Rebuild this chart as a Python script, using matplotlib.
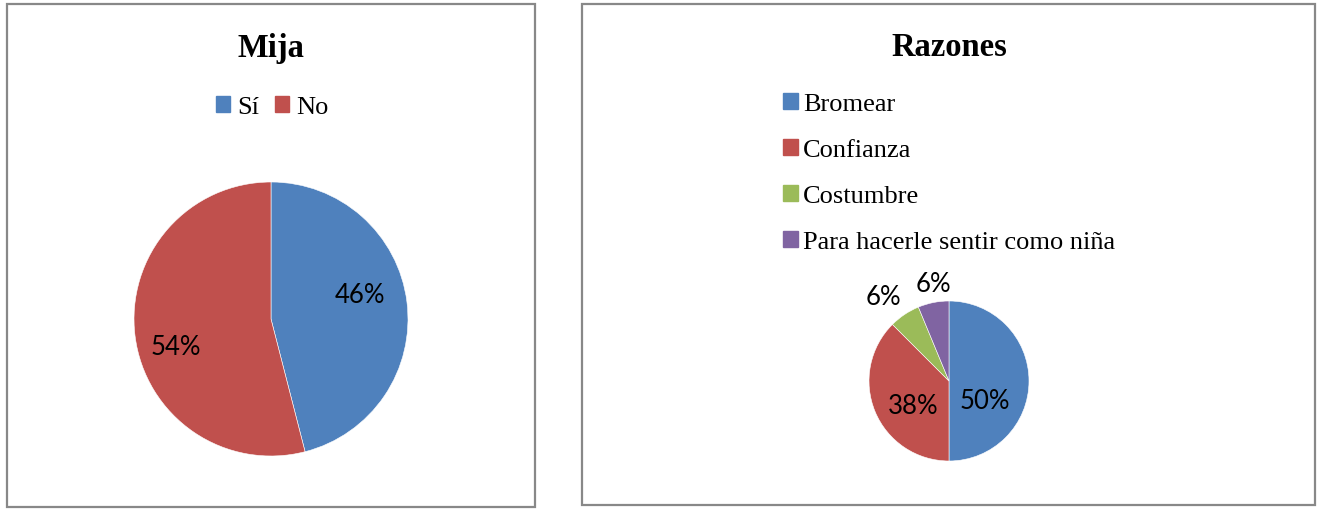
import matplotlib.pyplot as plt
import numpy as np
from matplotlib.patches import Rectangle, Patch

# Mija chart
mija_labels = ["Sí", "No"]
mija_values = [46, 54]

# Razones chart
razones_labels = ["Bromear", "Confianza", "Costumbre", "Para hacerle sentir como niña"]
razones_values = [8, 6, 1, 1]

colors = ["#4F81BD", "#C0504D", "#9BBB59", "#8064A2"]

W, H = 1322, 510
fig = plt.figure(figsize=(W / 100, H / 100), dpi=100)
fig.patch.set_facecolor("white")

serif = "Liberation Serif"
sans = "Lato"


def px_axes(cx, cy, r):
    # axes of size 2r centred at pixel (cx, cy), y measured from the top
    return fig.add_axes([(cx - r) / W, (H - cy - r) / H, 2 * r / W, 2 * r / H])


def box(x0, y0, x1, y1):
    fig.add_artist(Rectangle((x0 / W, 1 - y1 / H), (x1 - x0) / W, (y1 - y0) / H,
                             transform=fig.transFigure, fill=False,
                             edgecolor="#888888", linewidth=1.6))


def place_labels(wedges, texts, dists, shifts):
    # put each percentage at a given radius, turned a little off the slice bisector
    for w, t, d, s in zip(wedges, texts, dists, shifts):
        ang = np.deg2rad((w.theta1 + w.theta2) / 2 + s)
        t.set_position((d * np.cos(ang), d * np.sin(ang)))


box(7, 5, 535, 508)
box(582, 5, 1315, 506)

# --- Mija ---
ax1 = px_axes(271, 320, 137)
wedges1, _, pct1 = ax1.pie(mija_values, colors=colors[:2], startangle=90, counterclock=False,
                           autopct="%.0f%%",
                           wedgeprops=dict(edgecolor="white", linewidth=0.4),
                           textprops=dict(fontsize=18.5, family=sans, color="black"))
ax1.set_xlim(-1, 1)
ax1.set_ylim(-1, 1)
place_labels(wedges1, pct1, [0.67, 0.72], [8, 9])
fig.text(271 / W, 1 - 49 / H, "Mija", ha="center", va="center",
         fontsize=23.5, fontweight="bold", family=serif)
fig.legend([Patch(color=c) for c in colors[:2]], mija_labels, loc="center",
           bbox_to_anchor=(272 / W, 1 - 108 / H), ncol=2, frameon=False,
           prop=dict(family=serif, size=19), handlelength=0.55, handleheight=0.55,
           handletextpad=0.25, columnspacing=0.6)

# --- Razones ---
ax2 = px_axes(949, 382, 80)
wedges2, _, pct2 = ax2.pie(razones_values, colors=colors, startangle=90, counterclock=False,
                           autopct="%.0f%%",
                           wedgeprops=dict(edgecolor="white", linewidth=0.4),
                           textprops=dict(fontsize=18.5, family=sans, color="black"))
ax2.set_xlim(-1, 1)
ax2.set_ylim(-1, 1)
# the two small slices get their labels outside the pie
place_labels(wedges2, pct2, [0.51, 0.55, 1.335, 1.24], [-28, 12, 4, -2])
fig.text(949 / W, 1 - 47 / H, "Razones", ha="center", va="center",
         fontsize=23.5, fontweight="bold", family=serif)
fig.legend([Patch(color=c) for c in colors], razones_labels, loc="upper left",
           bbox_to_anchor=(783 / W, 1 - 94 / H), ncol=1, frameon=False,
           prop=dict(family=serif, size=19), handlelength=0.55, handleheight=0.55,
           handletextpad=0.2, labelspacing=0.9, borderpad=0, borderaxespad=0)

fig.savefig("out.png", dpi=100)
